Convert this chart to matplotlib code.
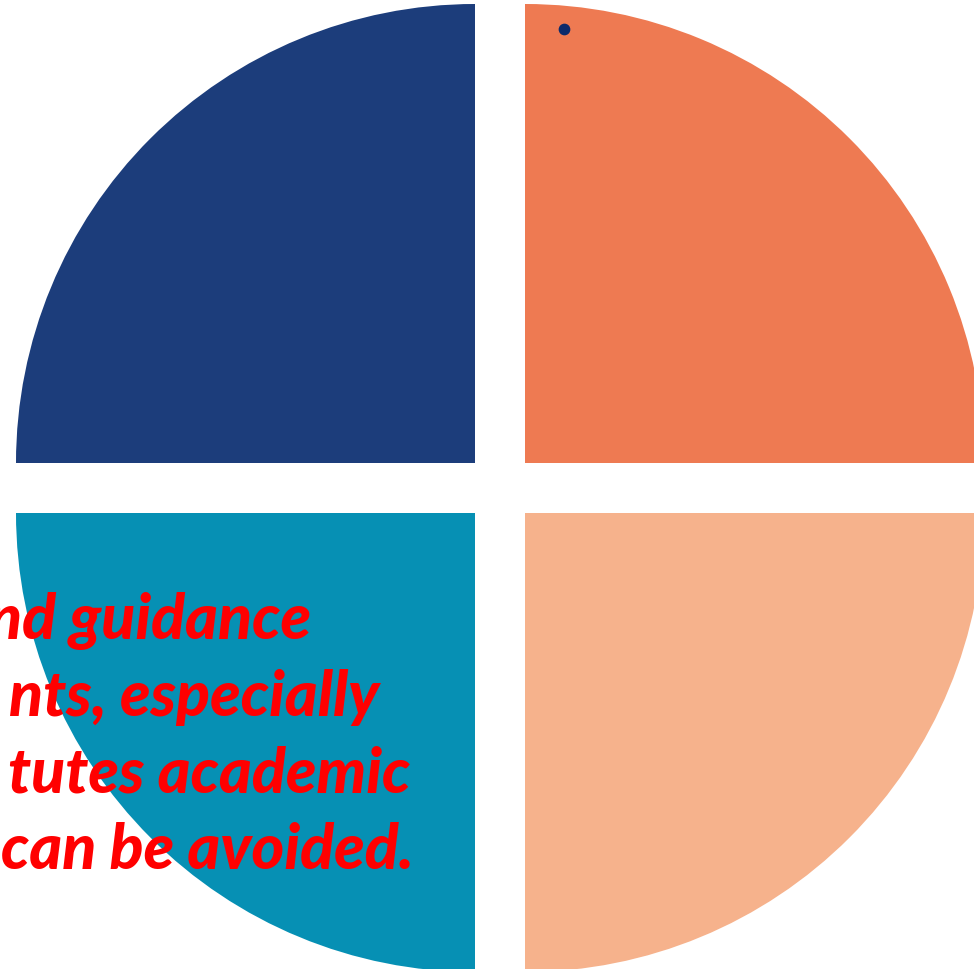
import numpy as np
import matplotlib.pyplot as plt

# -----------------------------
# Dados
# -----------------------------
# quatro quadrantes iguais (em ordem: inferior dir., inferior esq., superior esq., superior dir.)
shares = [25, 25, 25, 25]
colors = ["#F6B28C", "#0690B4", "#1C3D7B", "#EE7A52"]

# ponto isolado no quadrante laranja
dot_x = [564]
dot_y = [30]

# linhas de texto visíveis (cortadas à esquerda no original)
text_lines = ["nd guidance", "nts, especially", "tutes academic", "can be avoided."]
text_right = [311, 379, 410, 414]
text_base = [639, 716, 793, 869]

# -----------------------------
# Figura
# -----------------------------
fig = plt.figure(figsize=(9.74, 9.70), dpi=100)
ax = fig.add_axes([0, 0, 1, 1])

# explode em unidades de dados: 25 px em x e y -> 25*sqrt(2)
off = 25 * np.sqrt(2)
ax.pie(shares, colors=colors, startangle=0, counterclock=True,
       center=(500, 489), radius=459, explode=[off] * 4,
       wedgeprops=dict(linewidth=0))

ax.scatter(dot_x, dot_y, s=55, color="#0C2A6B", zorder=5)

for line, xr, yb in zip(text_lines, text_right, text_base):
    ax.text(xr, yb, line, ha="right", va="baseline", color="#FF0000",
            fontsize=45, fontweight="black", fontstyle="italic",
            family=["Lato", "DejaVu Sans"], zorder=6)

ax.set_xlim(0, 974)
ax.set_ylim(970, 0)
ax.set_aspect("auto")
ax.axis("off")

fig.savefig("out.png", dpi=100)
